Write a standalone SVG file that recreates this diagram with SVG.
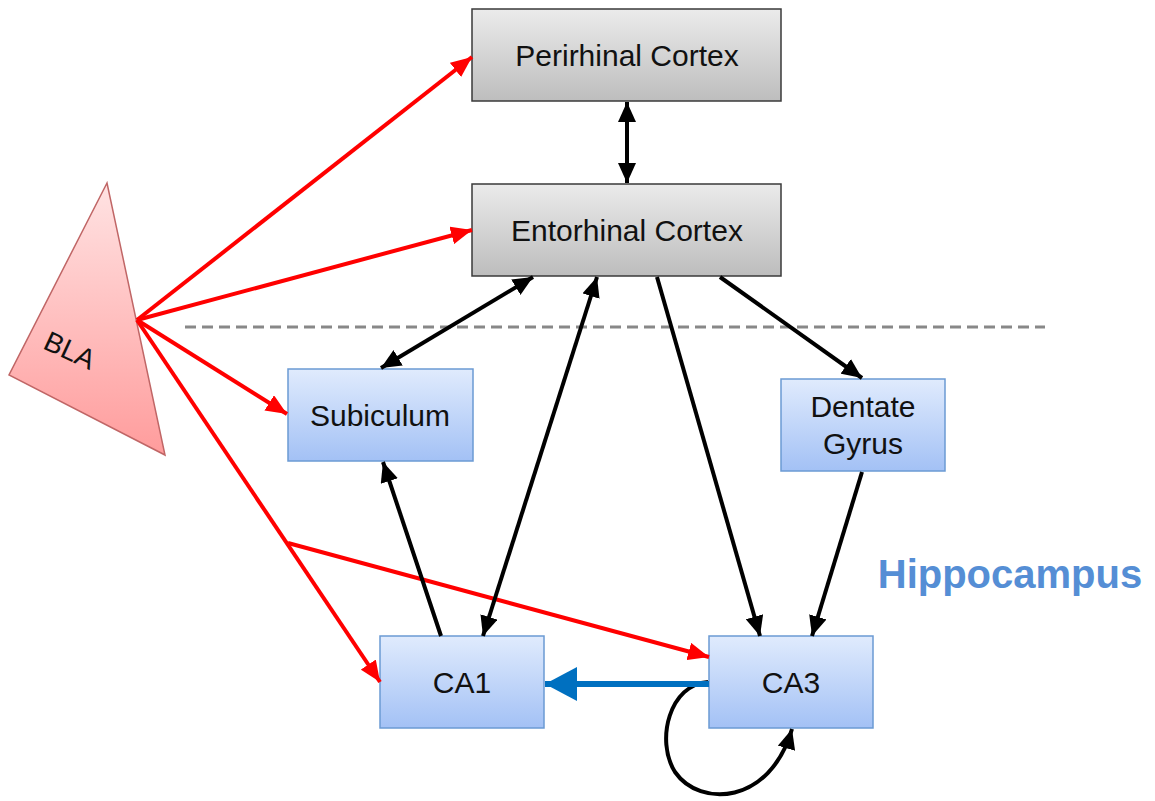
<svg xmlns="http://www.w3.org/2000/svg" width="1155" height="801" viewBox="0 0 1155 801">
<defs>
<linearGradient id="gGray" x1="0" y1="0" x2="0" y2="1"><stop offset="0" stop-color="#EBEBEB"/><stop offset="1" stop-color="#BDBDBD"/></linearGradient>
<linearGradient id="gBlue" x1="0" y1="0" x2="0" y2="1"><stop offset="0" stop-color="#E0EBFD"/><stop offset="1" stop-color="#A3C1F5"/></linearGradient>
<linearGradient id="gRed" x1="0" y1="0" x2="0" y2="1"><stop offset="0" stop-color="#FFE3E3"/><stop offset="1" stop-color="#FF9C9C"/></linearGradient>
<marker id="aBlack" markerUnits="userSpaceOnUse" markerWidth="21" markerHeight="18" refX="20" refY="9" orient="auto-start-reverse" viewBox="0 0 21 18"><path d="M0,0 L20,9 L0,18 z" fill="#000"/></marker>
<marker id="aRed" markerUnits="userSpaceOnUse" markerWidth="22" markerHeight="18" refX="21" refY="9" orient="auto" viewBox="0 0 22 18"><path d="M0,0 L21,9 L0,18 z" fill="#FF0000"/></marker>
<marker id="aBlue" markerUnits="userSpaceOnUse" markerWidth="33" markerHeight="34" refX="32" refY="17" orient="auto" viewBox="0 0 33 34"><path d="M0,0 L32,17 L0,34 z" fill="#0070C0"/></marker>
</defs>
<style>
.gray{fill:url(#gGray);stroke:#3A3A3A;stroke-width:1.5}
.blue{fill:url(#gBlue);stroke:#6B9AD3;stroke-width:1.5}
.lbl{font-family:"Liberation Sans",Arial,sans-serif;font-size:30px;fill:#111;text-anchor:middle}
.red{stroke:#FF0000;stroke-width:4;fill:none}
.blk{stroke:#000;stroke-width:4;fill:none}
</style>
<rect width="1155" height="801" fill="#fff"/>
<line x1="185" y1="327" x2="1045" y2="327" stroke="#888" stroke-width="3" stroke-dasharray="11,6"/>
<g id="bla">
<polygon points="107,183 9,375 165,455" fill="url(#gRed)" stroke="#C06666" stroke-width="1.5"/>
<text x="70" y="360" class="lbl" transform="rotate(25 70 350)" style="font-size:28px">BLA</text>
</g>
<g id="perirhinal"><rect x="472" y="9" width="309" height="92" class="gray"/><text x="627" y="66" class="lbl">Perirhinal Cortex</text></g>
<g id="entorhinal"><rect x="472" y="184" width="309" height="92" class="gray"/><text x="627" y="241" class="lbl">Entorhinal Cortex</text></g>
<g id="subiculum"><rect x="288" y="369" width="185" height="92" class="blue"/><text x="380" y="426" class="lbl">Subiculum</text></g>
<g id="dentate"><rect x="781" y="379" width="164" height="92" class="blue"/><text x="863" y="417" class="lbl">Dentate</text><text x="863" y="454" class="lbl">Gyrus</text></g>
<g id="ca1"><rect x="380" y="636" width="164" height="92" class="blue"/><text x="462" y="693" class="lbl">CA1</text></g>
<g id="ca3"><rect x="709" y="636" width="164" height="92" class="blue"/><text x="791" y="693" class="lbl">CA3</text></g>
<g id="label"><text x="1010" y="588" style="font-family:'Liberation Sans',Arial,sans-serif;font-size:40px;font-weight:bold;fill:#558ED5;text-anchor:middle">Hippocampus</text></g>
<g id="connectors">
<path class="red" d="M137,320 L472,57" marker-end="url(#aRed)"/>
<path class="red" d="M137,320 L472,230" marker-end="url(#aRed)"/>
<path class="red" d="M137,320 L287,414" marker-end="url(#aRed)"/>
<path class="red" d="M137,320 L380,682" marker-end="url(#aRed)"/>
<path class="red" d="M288,543 L709,657" marker-end="url(#aRed)"/>
<path class="blk" d="M627,102 L627,183" marker-start="url(#aBlack)" marker-end="url(#aBlack)"/>
<path class="blk" d="M533,277 L381,368" marker-start="url(#aBlack)" marker-end="url(#aBlack)"/>
<path class="blk" d="M597,277 L483,636" marker-start="url(#aBlack)" marker-end="url(#aBlack)"/>
<path class="blk" d="M657,277 L760,636" marker-end="url(#aBlack)"/>
<path class="blk" d="M720,277 L862,378" marker-end="url(#aBlack)"/>
<path class="blk" d="M862,472 L812,636" marker-end="url(#aBlack)"/>
<path class="blk" d="M441,636 L383,462" marker-end="url(#aBlack)"/>
<path class="blk" d="M708,682 C670,684 655,740 675,772 C700,808 770,805 792,729" marker-end="url(#aBlack)"/>
<path d="M709,684 L545,684" stroke="#0070C0" stroke-width="6" fill="none" marker-end="url(#aBlue)"/>
</g>
</svg>
